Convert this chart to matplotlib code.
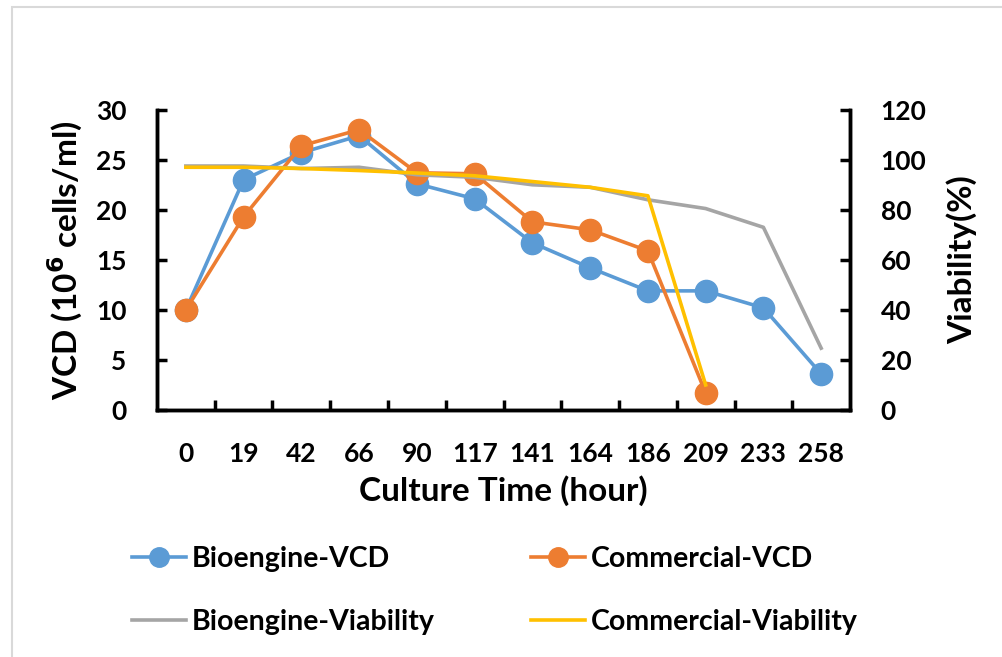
import matplotlib.pyplot as plt
from matplotlib.lines import Line2D
from matplotlib.patches import Rectangle

plt.rcParams['font.family'] = ['Lato', 'DejaVu Sans']
plt.rcParams['font.weight'] = 'bold'

hours = ['0', '19', '42', '66', '90', '117', '141', '164', '186', '209', '233', '258']
bio_vcd = [10.0, 23.0, 25.7, 27.4, 22.6, 21.1, 16.7, 14.2, 11.9, 11.9, 10.2, 3.6]
com_vcd = [10.0, 19.3, 26.4, 28.0, 23.7, 23.6, 18.8, 18.0, 15.9, 1.7]
bio_via = [97.5, 97.5, 96.5, 97.0, 94.0, 93.0, 90.0, 89.0, 84.0, 80.5, 73.0, 24.7]
com_via = [97.0, 97.0, 96.5, 95.7, 94.7, 93.6, 91.3, 89.0, 85.6, 10.0]

c_blue = '#5b9bd5'
c_orange = '#ed7d31'
c_gray = '#a5a5a5'
c_yellow = '#ffc000'

fig = plt.figure(figsize=(10.03, 6.57), dpi=100)
ax = fig.add_axes([0.1565, 0.376, 0.691, 0.457])
ax2 = ax.twinx()

x_all = list(range(len(hours)))
ax.plot(x_all, bio_vcd, color=c_blue, lw=2.6, marker='o', ms=16, zorder=3)
ax.plot(x_all[:len(com_vcd)], com_vcd, color=c_orange, lw=2.6, marker='o', ms=16, zorder=4)
ax2.plot(x_all, bio_via, color=c_gray, lw=2.6)
ax2.plot(x_all[:len(com_via)], com_via, color=c_yellow, lw=2.6)

ax.set_xlim(-0.5, len(hours) - 0.5)
ax.set_ylim(0, 30)
ax2.set_ylim(0, 120)
ax.set_yticks(range(0, 31, 5))
ax2.set_yticks(range(0, 121, 20))
ax.set_xticks(x_all)
ax.set_xticklabels(hours)
ax.set_xticks([i + 0.5 for i in range(len(hours) - 1)], minor=True)

ax.tick_params(axis='x', which='major', length=0, labelsize=19, pad=23)
ax.tick_params(axis='x', which='minor', direction='in', length=7, width=2.5)
ax.tick_params(axis='y', direction='in', length=7, width=2.5, labelsize=19, pad=22)
ax2.tick_params(axis='y', direction='in', length=7, width=2.5, labelsize=19, pad=22)
for lab in ax.get_xticklabels() + ax.get_yticklabels() + ax2.get_yticklabels():
    lab.set_fontweight('bold')

for a in (ax, ax2):
    a.spines['top'].set_visible(False)
    for s in ('left', 'right', 'bottom'):
        a.spines[s].set_linewidth(2.5)

ax.set_ylabel('VCD (10$^{6}$ cells/ml)', fontsize=24, fontweight='bold', labelpad=8)
ax2.set_ylabel('Viability(%)', fontsize=24, fontweight='bold', labelpad=14)
ax.set_xlabel('Culture Time (hour)', fontsize=24, fontweight='bold', labelpad=7)

handles = [
    Line2D([], [], color=c_blue, lw=2.6, marker='o', ms=14),
    Line2D([], [], color=c_gray, lw=2.6),
    Line2D([], [], color=c_orange, lw=2.6, marker='o', ms=14),
    Line2D([], [], color=c_yellow, lw=2.6),
]
labels = ['Bioengine-VCD', 'Bioengine-Viability', 'Commercial-VCD', 'Commercial-Viability']
leg = fig.legend(handles, labels, ncol=2, loc='center', bbox_to_anchor=(0.4935, 0.101),
                 frameon=False, fontsize=20.5, handlelength=1.9, handletextpad=0.2,
                 columnspacing=3.4, labelspacing=1.3)
for t in leg.get_texts():
    t.set_fontweight('bold')

fig.patches.append(Rectangle((0.012, -0.01), 1.1, 1.0, transform=fig.transFigure,
                             fill=False, edgecolor='#d9d9d9', lw=1.5))

fig.savefig('out.png', dpi=100)
